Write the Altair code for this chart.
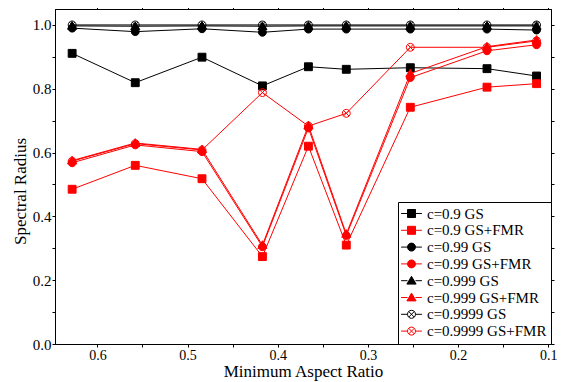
import altair as alt
import pandas as pd

# x positions (minimum aspect ratio)
aspect_ratio = [0.628, 0.558, 0.484, 0.417, 0.366, 0.324, 0.253, 0.168, 0.113]

series_names = [
    "c=0.9 GS", "c=0.9 GS+FMR",
    "c=0.99 GS", "c=0.99 GS+FMR",
    "c=0.999 GS", "c=0.999 GS+FMR",
    "c=0.9999 GS", "c=0.9999 GS+FMR",
]

gs_09 = [0.911, 0.819, 0.899, 0.809, 0.869, 0.861, 0.866, 0.863, 0.840]
fmr_09 = [0.485, 0.560, 0.518, 0.274, 0.620, 0.310, 0.742, 0.805, 0.816]
gs_099 = [0.990, 0.979, 0.988, 0.977, 0.987, 0.987, 0.987, 0.987, 0.984]
fmr_099 = [0.568, 0.624, 0.603, 0.305, 0.677, 0.340, 0.835, 0.919, 0.938]
gs_0999 = [0.997, 0.996, 0.997, 0.996, 0.997, 0.997, 0.997, 0.997, 0.997]
fmr_0999 = [0.575, 0.630, 0.610, 0.310, 0.685, 0.345, 0.848, 0.932, 0.953]
gs_09999 = [1.000, 1.000, 1.000, 1.000, 1.000, 1.000, 1.000, 1.000, 1.000]
fmr_09999 = [0.573, 0.628, 0.608, 0.788, 0.683, 0.723, 0.930, 0.930, 0.950]

series_values = [gs_09, fmr_09, gs_099, fmr_099, gs_0999, fmr_0999, gs_09999, fmr_09999]

x_ticks = [0.1, 0.15, 0.2, 0.25, 0.3, 0.35, 0.4, 0.45, 0.5, 0.55, 0.6]
y_ticks = [0.0, 0.1, 0.2, 0.3, 0.4, 0.5, 0.6, 0.7, 0.8, 0.9, 1.0]

rows = []
for name, vals in zip(series_names, series_values):
    for i, (xv, yv) in enumerate(zip(aspect_ratio, vals)):
        rows.append({"series": name, "ratio": xv, "radius": yv, "idx": i})
df = pd.DataFrame(rows)

BLACK = "#000000"
RED = "#ff0000"
stroke_colors = [BLACK, RED] * 4
fill_colors = [BLACK, RED, BLACK, RED, BLACK, RED, "transparent", "transparent"]

SQ = "M-1,-1 L1,-1 L1,1 L-1,1 Z"
CI = "M-1,0 A1,1 0 1,0 1,0 A1,1 0 1,0 -1,0 Z"
TR = "M0,-1.1 L1.15,0.85 L-1.15,0.85 Z"
CX = CI + " M-0.71,-0.71 L0.71,0.71 M-0.71,0.71 L0.71,-0.71"
plot_shapes = [SQ, SQ, CI, CI, TR, TR, CX, CX]
LINE = "M-2.6,0 L-1,0 M1,0 L2.6,0 "
legend_shapes = [LINE + s for s in plot_shapes]

FONT = "Liberation Serif"

xscale = alt.Scale(domain=[0.097, 0.647], reverse=True, nice=False, zero=False)
yscale = alt.Scale(domain=[0.0, 1.05], nice=False, zero=True)

x_label_expr = "round(datum.value*100) % 10 == 0 ? format(datum.value, '.1f') : ''"
y_label_expr = "round(datum.value*10) % 2 == 0 ? format(datum.value, '.1f') : ''"

base = alt.Chart(df)

lines = base.mark_line(strokeWidth=1).encode(
    x=alt.X("ratio:Q", scale=xscale,
            axis=alt.Axis(orient="bottom", values=x_ticks, labelExpr=x_label_expr,
                          title="Minimum Aspect Ratio", labelFlush=False,
                          labelPadding=1, titlePadding=1, labelFontSize=14)),
    y=alt.Y("radius:Q", scale=yscale,
            axis=alt.Axis(orient="left", values=y_ticks, labelExpr=y_label_expr,
                          title="Spectral Radius", labelPadding=1, titlePadding=3,
                          titleY=182)),
    stroke=alt.Stroke("series:N", scale=alt.Scale(domain=series_names, range=stroke_colors), legend=None),
    order="idx:Q",
)

points = base.mark_point(size=62, opacity=1, strokeWidth=1).encode(
    x=alt.X("ratio:Q", scale=xscale,
            axis=alt.Axis(orient="top", values=x_ticks, labels=False, title=None)),
    y=alt.Y("radius:Q", scale=yscale,
            axis=alt.Axis(orient="right", values=y_ticks, labels=False, title=None)),
    shape=alt.Shape("series:N", scale=alt.Scale(domain=series_names, range=plot_shapes), legend=None),
    fill=alt.Fill("series:N", scale=alt.Scale(domain=series_names, range=fill_colors), legend=None),
    stroke=alt.Stroke("series:N", scale=alt.Scale(domain=series_names, range=stroke_colors), legend=None),
)

leg = alt.Legend(title=None, orient="bottom-right", offset=0,
                 symbolOpacity=1, symbolSize=64, symbolStrokeWidth=1)

legend_layer = base.mark_point(size=64, opacity=0, strokeWidth=1).encode(
    x=alt.X("ratio:Q", scale=xscale, axis=None),
    y=alt.Y("radius:Q", scale=yscale, axis=None),
    shape=alt.Shape("series:N", scale=alt.Scale(domain=series_names, range=legend_shapes), legend=leg),
    fill=alt.Fill("series:N", scale=alt.Scale(domain=series_names, range=fill_colors), legend=leg),
    stroke=alt.Stroke("series:N", scale=alt.Scale(domain=series_names, range=stroke_colors), legend=leg),
)

chart = alt.layer(lines, points, legend_layer).resolve_scale(
    shape="independent", fill="independent", stroke="independent"
).resolve_axis(
    x="independent", y="independent"
).properties(
    width=496, height=335,
    autosize=alt.AutoSizeParams(type="none"),
    padding={"left": 47, "top": 1, "right": 7, "bottom": 37},
).configure_view(
    stroke=BLACK, strokeWidth=1
).configure_axis(
    labelFont=FONT, titleFont=FONT, labelFontSize=15, titleFontSize=17,
    titleFontWeight="normal", labelColor=BLACK, titleColor=BLACK,
    domainColor=BLACK, tickColor=BLACK, grid=False, tickSize=3, domainWidth=1,
).configure_legend(
    labelFont=FONT, labelFontSize=15, labelColor=BLACK,
    strokeColor=BLACK, fillColor="white", padding=4, rowPadding=0.8,
    symbolOffset=2, labelOffset=8, cornerRadius=0, labelLimit=200,
)

chart.save("out.html", embed_options={"renderer": "svg", "actions": False})
